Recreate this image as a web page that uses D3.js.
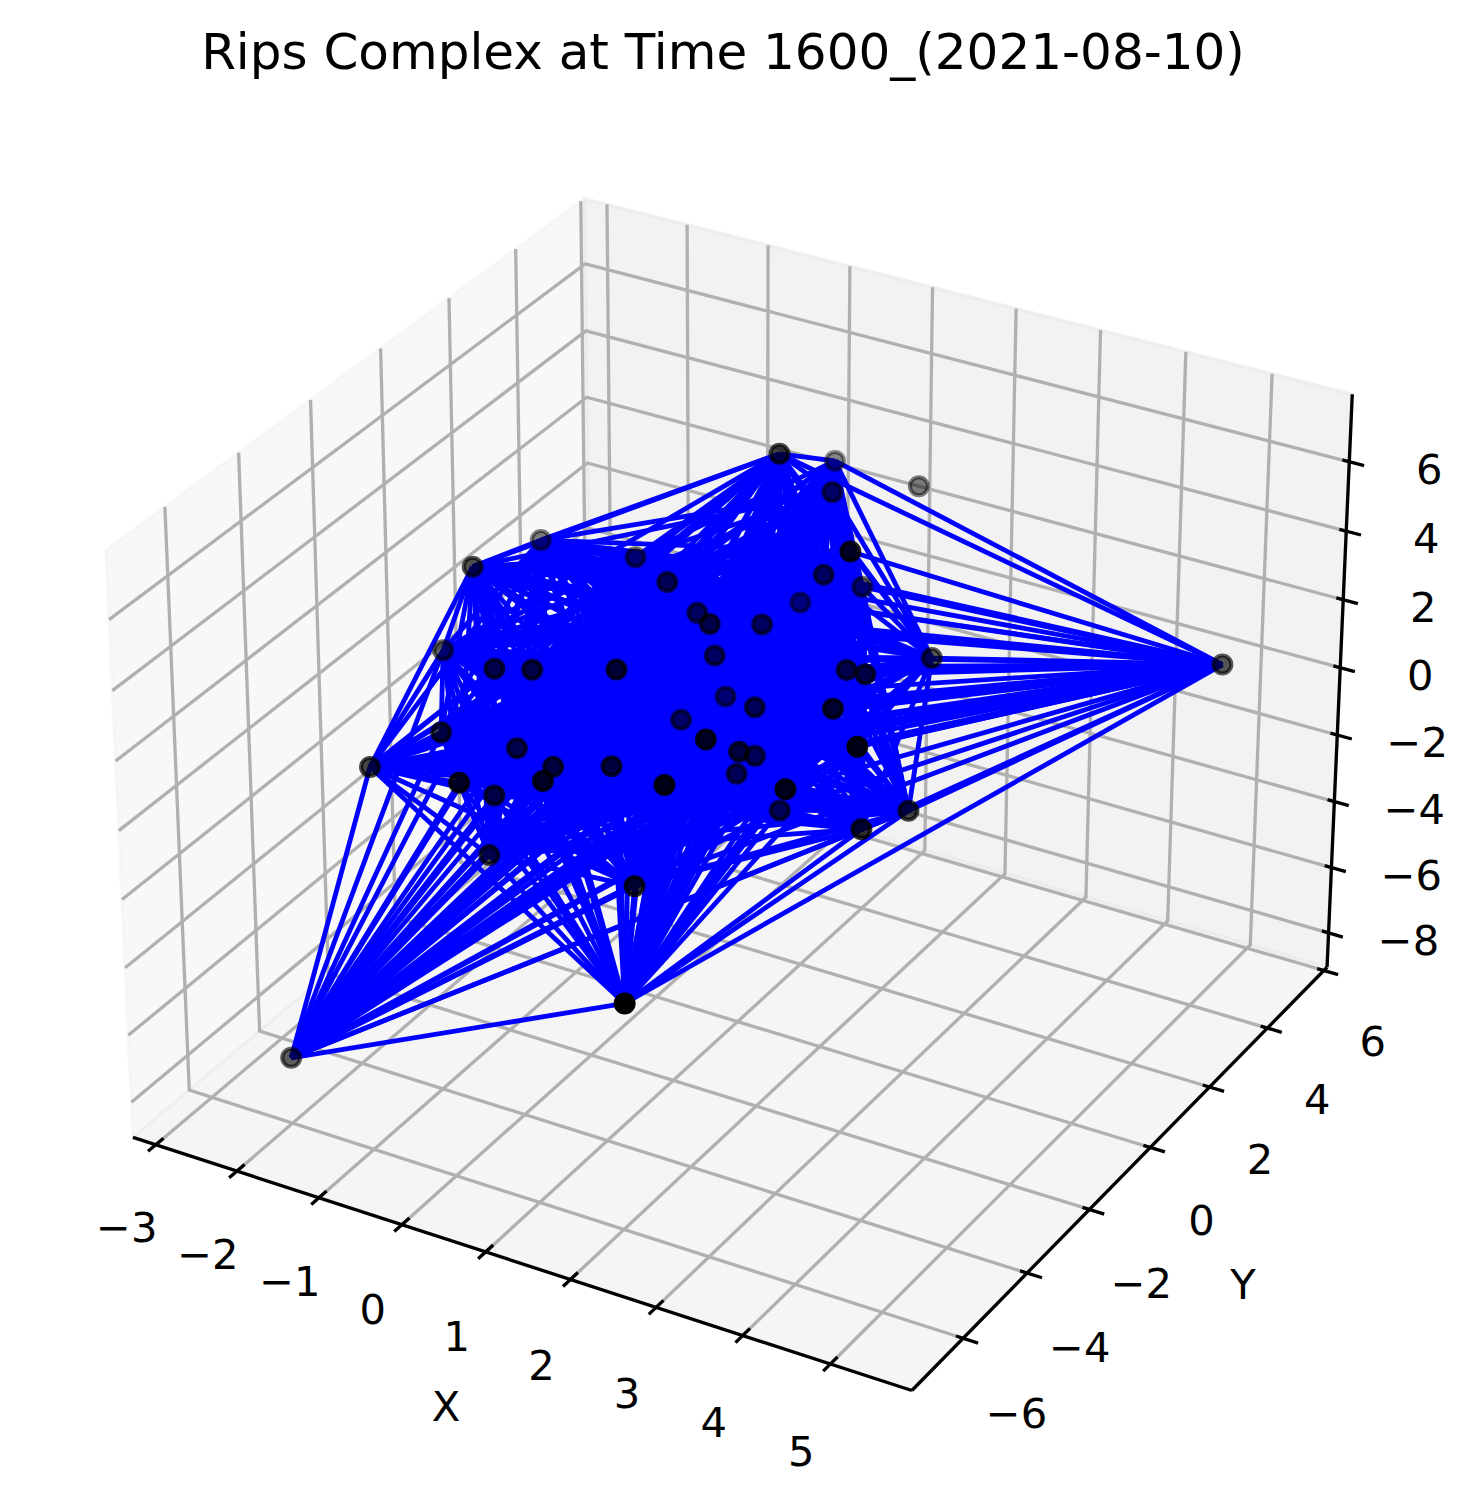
<!DOCTYPE html>
<html>
<head>
<meta charset="utf-8">
<script src="https://cdn.jsdelivr.net/npm/d3@7"></script>
<style>
body { margin:0; background:#fff; }
text { font-family:"DejaVu Sans"; fill:#000; }
</style>
</head>
<body>
<svg width="1475" height="1509"></svg>
<script>
// station positions
var xs = [-1.98,-2.59,-1.35,-0.37,-0.20,0.43,0.07,-2.68,-1.39,-0.92,0.21,-0.19,-0.15,0.74,-0.37,0.78,0.59,2.40,0.85,0.82,-0.01,0.42,2.23,1.78,2.08,
          0.75,2.35,-2.12,-1.57,-0.98,-0.29,0.29,-0.44,-0.93,0.23,-0.95,1.05,2.48,1.67,1.61,1.33,0.88,0.76,3.25,2.61,1.25,2.82,2.91,4.88,-2.73];
var ys = [-0.53,2.96,2.82,1.34,1.83,0.61,1.68,0.20,-1.35,-1.37,-1.65,1.29,2.58,1.96,6.66,6.35,4.03,-0.21,3.08,4.41,4.60,2.26,2.88,1.36,1.15,
          1.18,-0.58,-3.27,-2.50,-1.71,-2.32,-4.02,-4.66,-2.51,-1.87,-2.64,-3.25,-7.11,-3.90,-2.52,-0.80,0.85,0.59,-2.22,-2.71,0.67,0.57,-1.16,5.10,-4.36];
var zs = [2.86,0.53,0.95,2.03,0.85,1.92,-0.11,-0.66,0.93,1.24,2.25,-1.89,-2.21,6.01,1.54,1.76,3.23,5.97,1.70,0.28,-0.90,0.59,0.34,0.90,1.15,
          -0.77,1.74,-0.90,-0.13,-0.83,-0.38,1.03,0.99,-1.52,-0.37,-3.19,-2.12,-1.07,1.80,1.92,-0.05,-1.85,-2.25,2.62,1.36,-3.06,-1.86,-0.88,0.19,-9.13];

var isolated = [15];
// pairs that stay unconnected at this radius
var noEdge48 = [0,1,7,16,27,28,32,35,49];
var noEdge49 = [0,1,13,14,22,48];
var noEdge37 = [0,1,14,22];
var noEdge27 = [13,14,16,17,18,19,20,22,24,43,46,48];
var noEdge0 = [43,46,47,48,49];
var noEdge1 = [46,47,48,49];
var noEdge13 = [27,35,36,49];
var noEdge14 = [0,1,7,8,27,28,29,31,32,33,35,36,37,49];
var noEdge22 = [0,1,7,8,9,27,28,29,31,32,33,35,36,37,49];
var noEdge46 = [0,1,27];
var noEdge47 = [0,1,27];
var noEdge35 = [13,14,22,48];
var noEdge36 = [13,14,22];

var xTicks = [-3,-2,-1,0,1,2,3,4,5];
var yTicks = [-6,-4,-2,0,2,4,6];
var zTicks = [-8,-6,-4,-2,0,2,4,6];
var xLim = [-3.283,5.92];
var yLim = [-7.565,6.114];
var zLim = [-9.06,7.93];

var title = "Rips Complex at Time 1600_(2021-08-10)";

var svg = d3.select("svg");

// same view as a default mplot3d axes: elev 30, azim -60, dist 10, box 4:4:3
var boxW = 1.14286, boxH = 0.85714, dist = 10;
var u = [0.8660254,0.5,0], v = [-0.25,0.4330127,0.8660254], w = [0.4330127,-0.75,0.5];
var dot = function(a,b){ return a[0]*b[0]+a[1]*b[1]+a[2]*b[2]; };

var bx = d3.scaleLinear().domain(xLim).range([-boxW/2,boxW/2]);
var by = d3.scaleLinear().domain(yLim).range([-boxW/2,boxW/2]);
var bz = d3.scaleLinear().domain(zLim).range([-boxH/2,boxH/2]);
var px = d3.scaleLinear().domain([-0.1,0.1]).range([740.6-781,740.6+781]);
var py = d3.scaleLinear().domain([-0.1,0.1]).range([767+781,767-781]);

var depth = function(x,y,z){ return dot(w,[bx(x),by(y),bz(z)]); };
var project = function(x,y,z)
{
  var p = [bx(x),by(y),bz(z)];
  var d = dist - dot(w,p);
  return [px(dot(u,p)/d), py(dot(v,p)/d)];
};

var path = function(pts)
{
  return d3.line()(pts.map(function(p){ return project(p[0],p[1],p[2]); }));
};

var x0 = xLim[0], x1 = xLim[1], y0 = yLim[0], y1 = yLim[1], z0 = zLim[0], z1 = zLim[1];

// panes
var panes = [
  {c:"rgba(242,242,242,0.5)", p:[[x0,y0,z0],[x0,y1,z0],[x0,y1,z1],[x0,y0,z1],[x0,y0,z0]]},
  {c:"rgba(230,230,230,0.5)", p:[[x0,y1,z0],[x1,y1,z0],[x1,y1,z1],[x0,y1,z1],[x0,y1,z0]]},
  {c:"rgba(236,236,236,0.5)", p:[[x0,y0,z0],[x1,y0,z0],[x1,y1,z0],[x0,y1,z0],[x0,y0,z0]]}
];
svg.append("g").selectAll("path")
   .data(panes)
   .enter()
   .append("path")
   .attr("d",function(d){ return path(d.p)+"Z"; })
   .attr("fill",function(d){ return d.c; })
   .attr("stroke",function(d){ return d.c; })
   .attr("stroke-width",3.33);

// grid
var grid = [];
xTicks.forEach(function(t){ grid.push([[t,y0,z0],[t,y1,z0],[t,y1,z1]]); });
yTicks.forEach(function(t){ grid.push([[x1,t,z0],[x0,t,z0],[x0,t,z1]]); });
zTicks.forEach(function(t){ grid.push([[x0,y0,t],[x0,y1,t],[x1,y1,t]]); });
svg.append("g").selectAll("path")
   .data(grid)
   .enter()
   .append("path")
   .attr("d",path)
   .attr("fill","none")
   .attr("stroke","#b0b0b0")
   .attr("stroke-width",3.33);

// axis lines and tick marks
var axisLines = [
  [[x0,y0,z0],[x1,y0,z0]],
  [[x1,y0,z0],[x1,y1,z0]],
  [[x1,y1,z0],[x1,y1,z1]]
];
var dY = 0.215;
var dXin = 0.08, dXout = 0.17;
xTicks.forEach(function(t){ axisLines.push([[t,y0-dY,z0],[t,y0+dY,z0]]); });
yTicks.forEach(function(t){ axisLines.push([[x1-dXin,t,z0],[x1+dXout,t,z0]]); });
zTicks.forEach(function(t){ axisLines.push([[x1-dXin,y1,t],[x1+dXout,y1,t]]); });
svg.append("g").selectAll("path")
   .data(axisLines)
   .enter()
   .append("path")
   .attr("d",path)
   .attr("fill","none")
   .attr("stroke","black")
   .attr("stroke-width",3.33);

// complex edges
var skip = {};
var addSkip = function(a,list)
{
  list.forEach(function(b){ skip[Math.min(a,b)+"-"+Math.max(a,b)] = true; });
};
addSkip(48,noEdge48); addSkip(49,noEdge49); addSkip(37,noEdge37); addSkip(27,noEdge27);
addSkip(0,noEdge0); addSkip(1,noEdge1); addSkip(13,noEdge13); addSkip(14,noEdge14);
addSkip(22,noEdge22); addSkip(46,noEdge46); addSkip(47,noEdge47); addSkip(35,noEdge35); addSkip(36,noEdge36);

var edges = [];
for (var i = 0; i < xs.length; i++)
{
  for (var j = i+1; j < xs.length; j++)
  {
    if (isolated.indexOf(i) >= 0 || isolated.indexOf(j) >= 0) continue;
    if (skip[i+"-"+j]) continue;
    edges.push([i,j]);
  }
}
svg.append("g").selectAll("line")
   .data(edges)
   .enter()
   .append("line")
   .attr("x1",function(d){ return project(xs[d[0]],ys[d[0]],zs[d[0]])[0]; })
   .attr("y1",function(d){ return project(xs[d[0]],ys[d[0]],zs[d[0]])[1]; })
   .attr("x2",function(d){ return project(xs[d[1]],ys[d[1]],zs[d[1]])[0]; })
   .attr("y2",function(d){ return project(xs[d[1]],ys[d[1]],zs[d[1]])[1]; })
   .attr("stroke","#0000ff")
   .attr("stroke-width",4.8);

// points, faded with depth
var depths = xs.map(function(x,i){ return depth(x,ys[i],zs[i]); });
var shade = d3.scaleLinear().domain(d3.extent(depths)).range([0.45,1]);
var order = d3.range(xs.length).sort(function(a,b){ return depths[a]-depths[b]; });
svg.append("g").selectAll("circle")
   .data(order)
   .enter()
   .append("circle")
   .attr("cx",function(i){ return project(xs[i],ys[i],zs[i])[0]; })
   .attr("cy",function(i){ return project(xs[i],ys[i],zs[i])[1]; })
   .attr("r",9)
   .attr("fill","black")
   .attr("stroke","black")
   .attr("stroke-width",4)
   .attr("fill-opacity",function(i){ return shade(depths[i]); })
   .attr("stroke-opacity",function(i){ return shade(depths[i]); });

// tick labels
var fmt = function(t){ return (t < 0 ? "\u2212" : "") + Math.abs(t); };
var labels = [];
xTicks.forEach(function(t){ var p = project(t,y0,z0); labels.push({x:p[0]-29,y:p[1]+82+(t+3)*0.6,s:fmt(t)}); });
yTicks.forEach(function(t){ var p = project(x1,t,z0); labels.push({x:p[0]+49+(6-t)*0.37,y:p[1]+75-0.7*t-(6-t)*0.39,s:fmt(t)}); });
zTicks.forEach(function(t){ var p = project(x1,y1,t); labels.push({x:p[0]+80,y:p[1]+7,s:fmt(t)}); });
svg.append("g").selectAll("text")
   .data(labels)
   .enter()
   .append("text")
   .text(function(d){ return d.s; })
   .attr("x",function(d){ return d.x; })
   .attr("y",function(d){ return d.y+15; })
   .attr("font-size",41.67)
   .style("text-anchor","middle");

svg.append("text").text("X").attr("x",446).attr("y",1421).attr("font-size",41.67).style("text-anchor","middle");
svg.append("text").text("Y").attr("x",1243).attr("y",1299).attr("font-size",41.67).style("text-anchor","middle");
svg.append("text").text(title).attr("x",723).attr("y",69).attr("font-size",50).style("text-anchor","middle");
</script>
</body>
</html>
